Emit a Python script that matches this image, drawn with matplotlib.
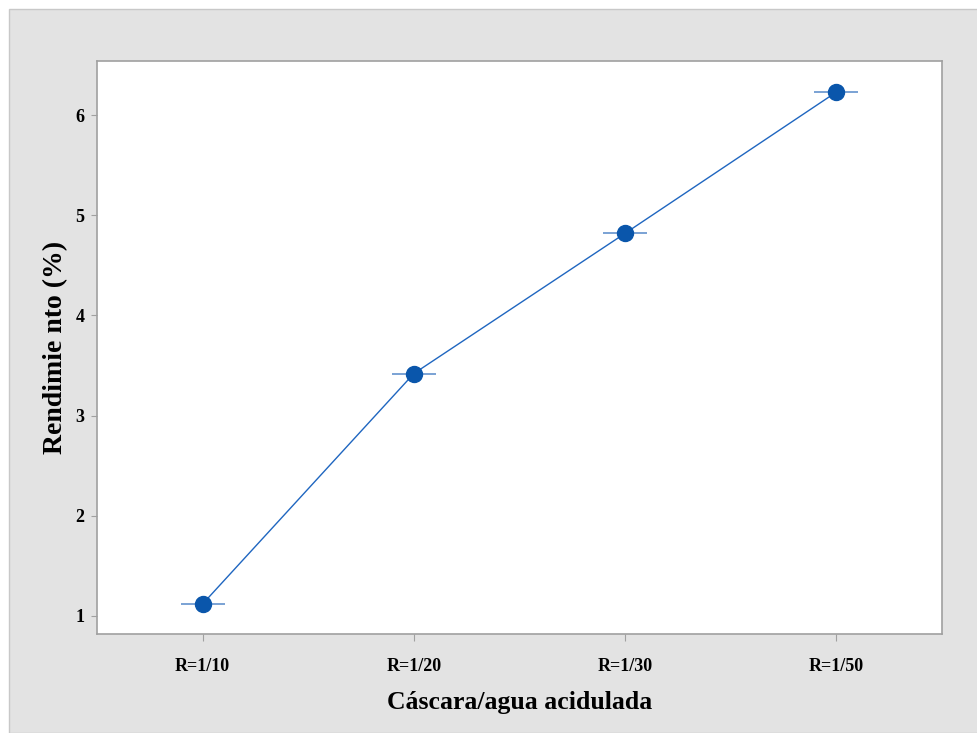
import matplotlib.pyplot as plt
from matplotlib.patches import Rectangle

# rendimiento medio por relacion cascara/agua
ratios = ['R=1/10', 'R=1/20', 'R=1/30', 'R=1/50']
rendimiento = [1.12, 3.42, 4.82, 6.23]

plt.rcParams['font.family'] = ['Liberation Serif', 'DejaVu Serif']
plt.rcParams['font.weight'] = 'bold'

fig = plt.figure(figsize=(9.77, 7.33), dpi=100)
fig.patch.set_facecolor('white')
# marco gris de fondo
fig.patches.append(Rectangle((9 / 977, 0), 1, 1 - 9 / 733, transform=fig.transFigure,
                             facecolor='#e3e3e3', edgecolor='#c8c8c8', lw=1, zorder=-10))

ax = fig.add_axes([97 / 977, 1 - 634 / 733, (942 - 97) / 977, (634 - 61) / 733])
ax.set_facecolor('white')

x = list(range(len(ratios)))
ax.plot(x, rendimiento, color='#1f66c0', lw=1, zorder=2)
ax.plot(x, rendimiento, ls='none', marker='_', markersize=32, markeredgewidth=1.3,
        color='#6f9bd1', zorder=3)
ax.plot(x, rendimiento, ls='none', marker='o', markersize=11.5, color='#0a56ab', zorder=4)

ax.set_xlim(-0.5, 3.5)
ax.set_ylim(0.82, 6.54)
ax.set_xticks(x)
ax.set_xticklabels(ratios, fontsize=13, fontweight='bold')
ax.set_yticks([1, 2, 3, 4, 5, 6])
ax.tick_params(axis='y', labelsize=13, length=4, color='#a0a0a0', pad=5)
ax.tick_params(axis='x', length=5, color='#a0a0a0', pad=12)

for s in ax.spines.values():
    s.set_color('#a0a0a0')
    s.set_linewidth(1.2)

ax.set_xlabel('Cáscara/agua acidulada', fontsize=18.5, fontweight='bold', labelpad=12)
ax.set_ylabel('Rendimie nto (%)', fontsize=20, fontweight='bold', labelpad=5)

fig.savefig('out.png', dpi=100)
